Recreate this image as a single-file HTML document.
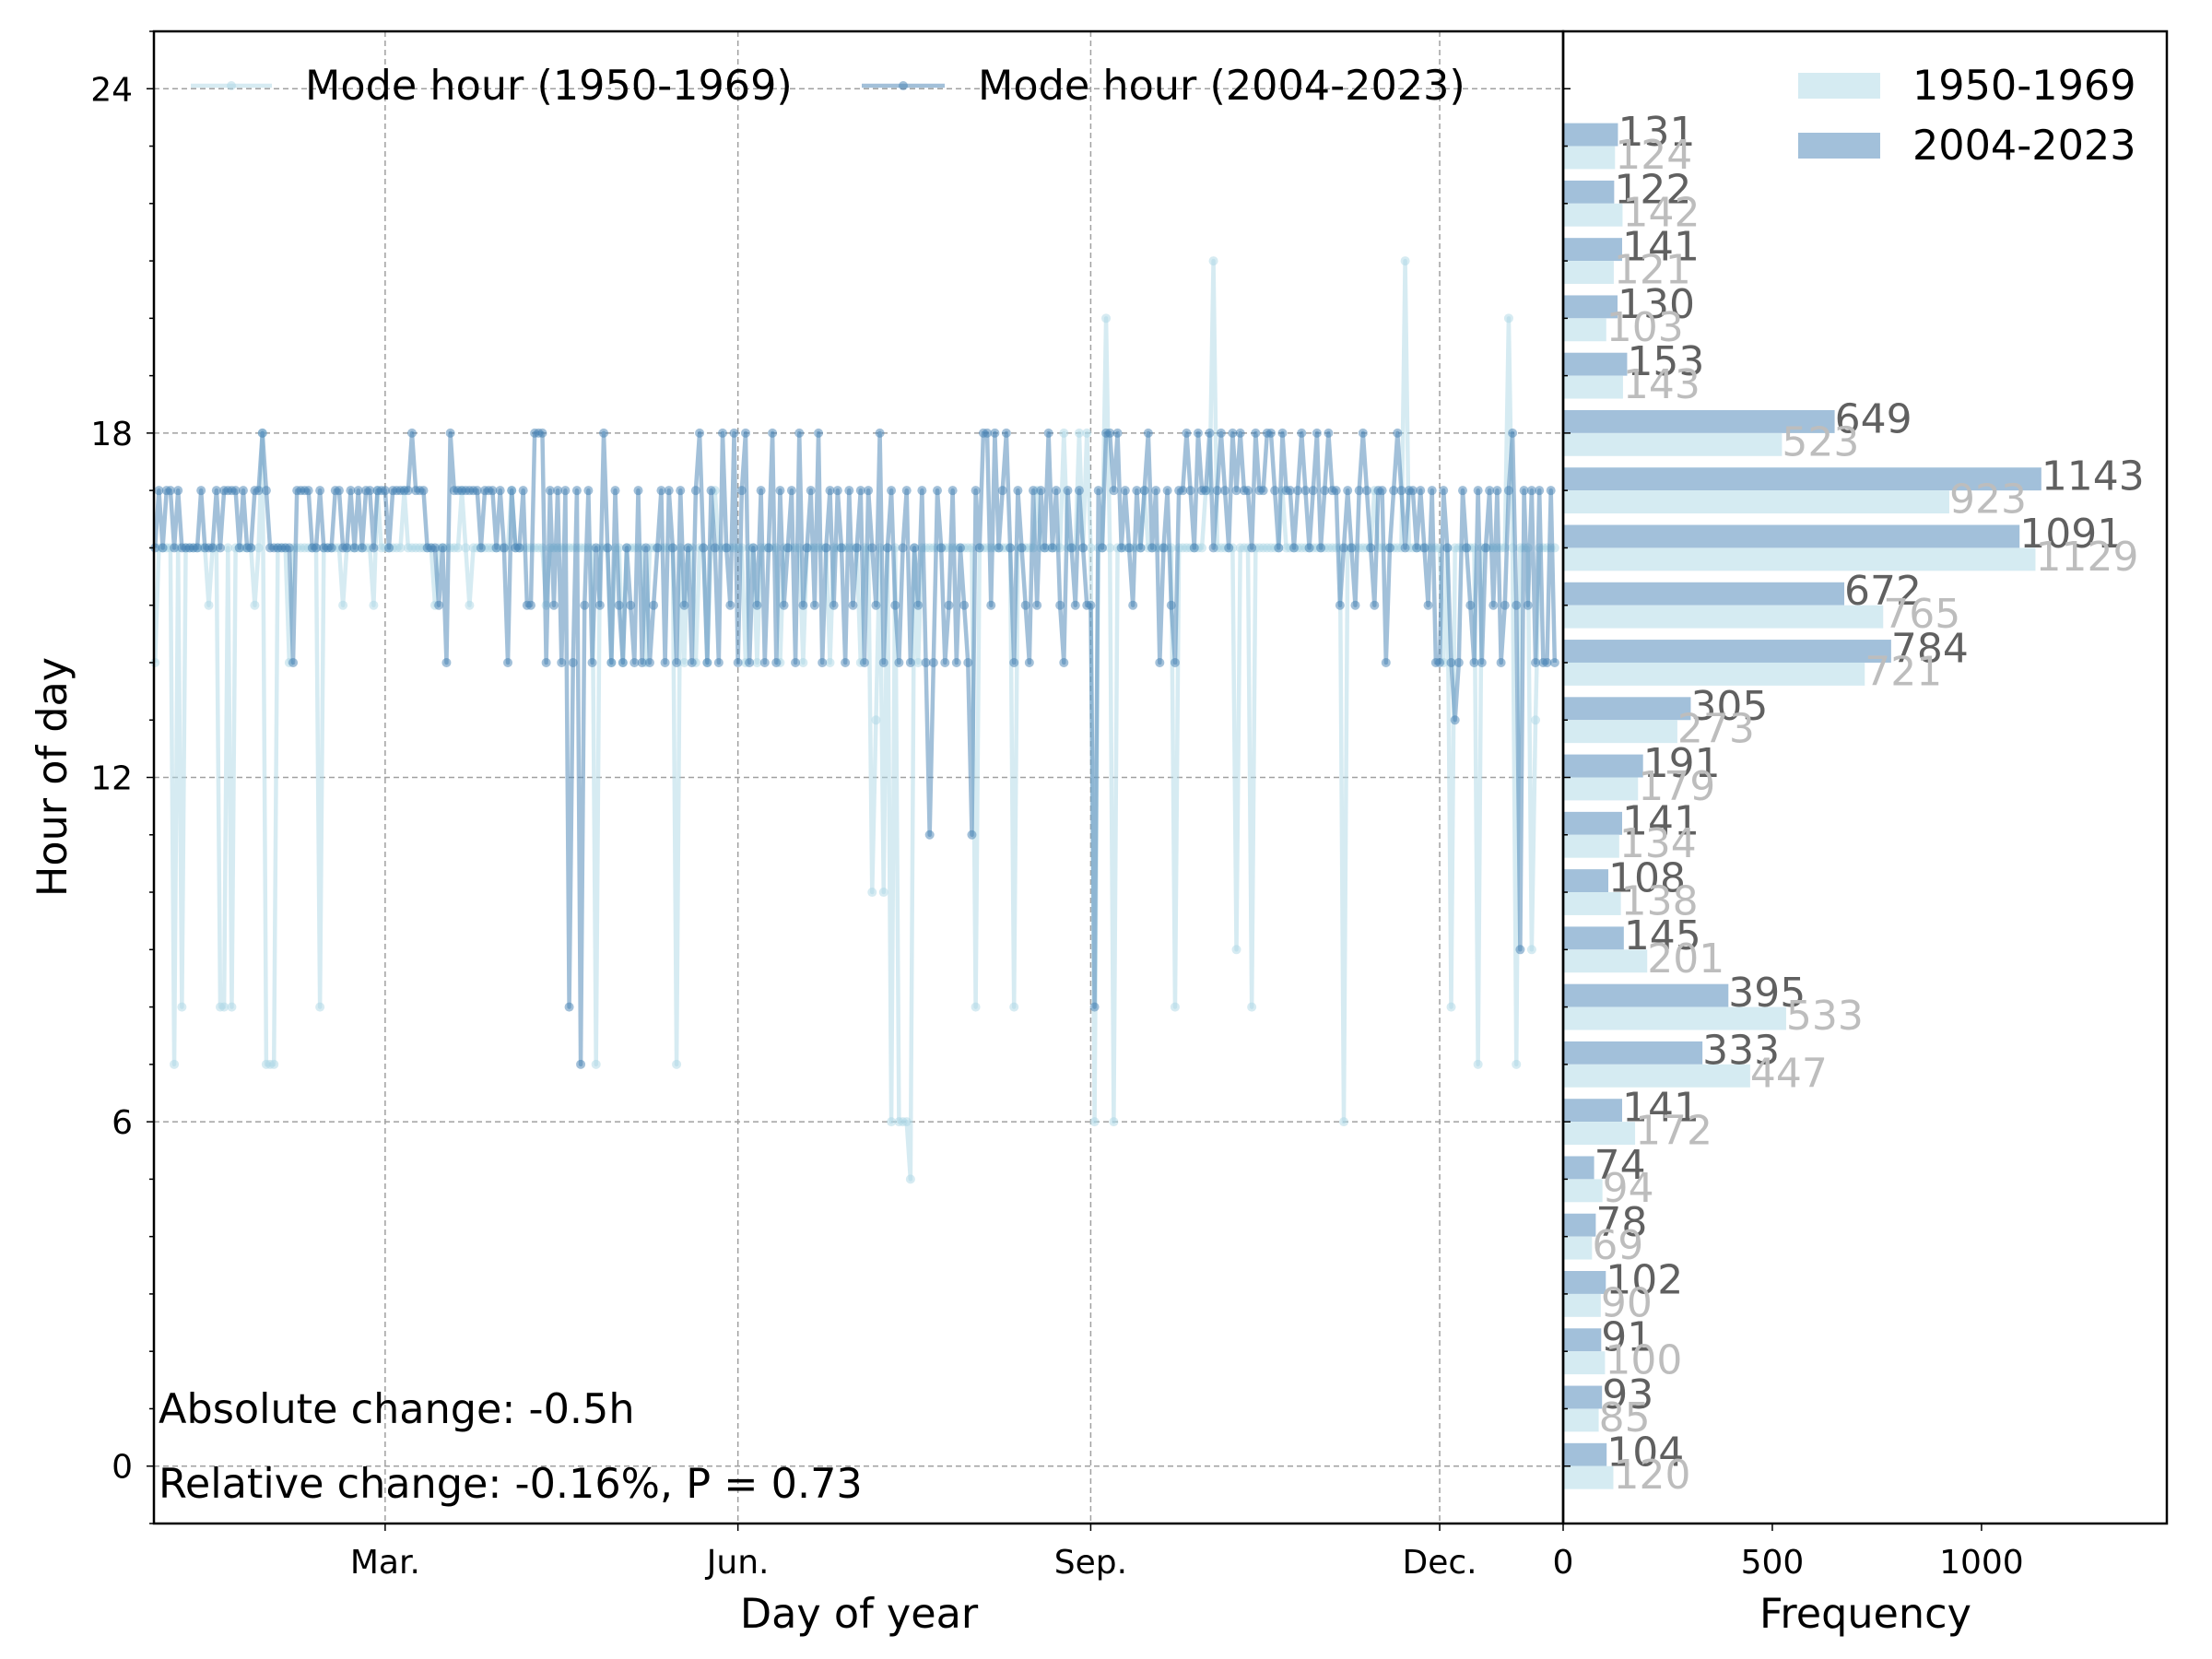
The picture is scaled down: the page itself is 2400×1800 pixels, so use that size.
<!DOCTYPE html>
<html><head><meta charset="utf-8"><style>
html,body{margin:0;padding:0;background:#fff;}
svg{display:block;font-family:"DejaVu Sans","Liberation Sans",sans-serif;}
</style></head><body>
<svg id="chart" width="2400" height="1800" viewBox="0 0 2400 1800" xmlns="http://www.w3.org/2000/svg">
<rect width="2400" height="1800" fill="#fff"/>
<g id="grid"></g>
<g id="series"></g>
<g id="hist"></g>
<g id="axes"></g>
<g id="labels"></g>
</svg>
<script>
const dark = [16,17,16,17,17,16,17,16,16,16,16,16,17,16,16,16,17,16,17,17,17,17,16,17,16,16,17,17,18,17,
16,16,16,16,16,16,14,17,17,17,17,16,16,17,16,16,16,17,17,16,16,17,16,17,16,17,17,16,17,17,
17,16,17,17,17,17,17,18,17,17,17,16,16,16,15,16,14,18,17,17,17,17,17,17,17,16,17,17,17,16,
17,16,14,17,16,16,17,15,15,18,18,18,14,17,15,17,14,17,8,14,17,7,15,17,14,16,15,18,16,14,
17,15,14,16,15,14,17,14,16,14,15,16,17,14,17,16,14,17,15,16,14,17,18,16,14,17,16,14,18,16,
15,18,14,17,18,14,16,15,17,14,16,18,14,17,15,16,17,14,18,15,16,17,15,18,14,16,17,15,17,16,
14,17,15,16,17,14,17,16,15,18,14,16,17,15,14,16,17,14,16,15,17,14,11,14,17,16,14,15,17,14,
16,15,14,11,17,16,18,18,15,18,16,17,18,16,14,17,16,15,14,17,15,17,16,18,16,17,15,14,17,16,
15,17,16,15,15,8,17,16,18,18,17,18,16,17,16,15,17,16,17,18,16,17,14,16,17,15,14,17,17,18,
17,16,18,17,17,18,16,17,18,17,16,18,17,18,17,17,16,18,17,17,18,18,17,16,18,17,17,16,17,18,
17,16,17,18,16,17,18,17,17,15,16,17,16,15,17,18,17,16,15,17,17,14,16,17,18,17,16,17,17,16,
17,16,15,17,14,14,17,16,14,13,14,17,16,15,14,17,14,16,17,15,17,14,15,17,18,15,9,17,15,17,14,17,14,14,17,14];
const light = [14,16,16,16,16,7,16,8,16,16,16,16,16,16,15,16,16,8,8,16,8,16,16,16,16,16,15,16,18,7,
7,7,16,16,16,14,16,16,16,16,16,16,16,8,16,16,16,16,16,15,16,16,16,16,16,16,16,15,17,16,
16,16,16,16,16,17,16,16,16,16,16,16,16,15,16,16,16,16,16,16,17,16,15,16,16,16,16,16,16,16,
16,16,16,17,16,16,16,16,16,16,16,16,15,16,16,16,16,16,16,16,16,16,16,16,16,7,16,16,16,14,
16,16,14,16,16,16,16,16,14,16,16,16,16,16,16,16,7,16,14,16,16,14,16,16,14,16,17,16,16,16,
16,16,16,16,14,16,16,14,16,16,16,16,16,14,16,16,16,16,16,14,16,16,16,16,16,16,14,16,16,16,
16,16,16,16,14,16,16,10,13,16,10,16,6,16,6,6,6,5,16,14,16,16,16,16,16,16,16,16,16,16,
16,16,16,16,8,16,16,16,16,16,16,16,16,16,8,16,16,16,16,16,17,16,16,16,16,16,16,18,16,16,
16,18,16,18,16,6,16,16,20,16,6,16,16,16,16,16,16,16,17,16,16,16,16,16,16,16,8,16,16,16,
16,16,16,16,17,17,21,16,16,16,16,16,9,16,16,16,8,16,16,16,16,16,16,16,17,16,16,16,16,16,
16,16,16,16,16,16,16,16,16,16,6,16,16,16,16,16,16,16,17,16,16,16,16,16,16,16,21,16,16,16,
16,16,16,16,16,16,14,16,8,16,16,16,16,16,16,7,16,16,16,16,16,16,16,20,16,7,16,16,16,9,13,16,16,16,16,16];
const hours = [0,1,2,3,4,5,6,7,8,9,10,11,12,13,14,15,16,17,18,19,20,21,22,23];
const histRecent = [104,93,91,102,78,74,141,333,395,145,108,141,191,305,784,672,1091,1143,649,153,130,141,122,131];
const histEarly = [120,85,100,90,69,94,172,447,533,201,138,134,179,273,721,765,1129,923,523,143,103,121,142,124];
const monthTicks = [60,152,244,335];
const monthLabels = ["Mar.","Jun.","Sep.","Dec."];
const hourTicks = [0,6,12,18,24];
const freqTicks = [0,500,1000];

const NS="http://www.w3.org/2000/svg";
const L=167,R=1696,T=34,B=1653,HR=2351;
const xMin=-0.3,xMax=367.2,yMin=-1,yMax=25,fMax=1443;
const X=d=>L+(d-xMin)/(xMax-xMin)*(R-L);
const Y=h=>B-(h-yMin)/(yMax-yMin)*(B-T);
const F=v=>R+v/fMax*(HR-R);
function mk(tag,attrs,parent){const e=document.createElementNS(NS,tag);for(const k in attrs)e.setAttribute(k,attrs[k]);parent.appendChild(e);return e;}
const grid=document.getElementById('grid'),series=document.getElementById('series'),hist=document.getElementById('hist'),axes=document.getElementById('axes'),labels=document.getElementById('labels');

monthTicks.forEach((d,i)=>{
  const g=mk('line',{x1:X(d),x2:X(d),y1:T,y2:B,stroke:'#a0a0a0','stroke-width':1.5,'stroke-dasharray':'6,4'},grid);
  
  
  const t=mk('line',{x1:X(d),x2:X(d),y1:B,y2:B+8,stroke:'#000','stroke-width':1.5},axes);
  
  
  const tx=mk('text',{x:X(d),y:1707,'font-size':36,'text-anchor':'middle'},labels);
  tx.textContent=monthLabels[i];
  
  
});
hourTicks.forEach(h=>{
  const g=mk('line',{x1:L,x2:R,y1:Y(h),y2:Y(h),stroke:'#a0a0a0','stroke-width':1.5,'stroke-dasharray':'6,4'},grid);
  
  
  const tx=mk('text',{x:144,y:Y(h)+13,'font-size':36,'text-anchor':'end'},labels);
  tx.textContent=h;
  
  
});
for(let h=-1;h<=25;h++){
  const major=h%6===0;
  const t=mk('line',{x1:L-(major?8:5),x2:L,y1:Y(h),y2:Y(h),stroke:'#000','stroke-width':1.5},axes);
  
  
  const t2=mk('line',{x1:R,x2:R+(major?8:5),y1:Y(h),y2:Y(h),stroke:'#000','stroke-width':1.5},axes);
  
  
}

function drawSeries(vals,color,name){
  const pts=vals.map((v,i)=>X(i)+','+Y(v)).join(' ');
  const pl=mk('polyline',{points:pts,fill:'none',stroke:color,'stroke-width':4.5,'stroke-opacity':0.5,'stroke-linejoin':'round'},series);
  
  
  vals.forEach((v,i)=>{
    const c=mk('circle',{cx:X(i),cy:Y(v),r:5,fill:color,'fill-opacity':0.5},series);
    
    
  });
}
drawSeries(light,'#add8e6','mode-hour-1950-1969');
drawSeries(dark,'#4682b4','mode-hour-2004-2023');

const bh=(B-T)/(yMax-yMin)*0.4;
hours.forEach((h,i)=>{
  const r1=mk('rect',{x:R,y:Y(h)-bh,width:F(histRecent[i])-R,height:bh,fill:'#a2c0da'},hist);
  
  
  const r2=mk('rect',{x:R,y:Y(h),width:F(histEarly[i])-R,height:bh,fill:'#d5ebf2'},hist);
  
  
  const t1=mk('text',{x:F(histRecent[i]),y:Y(h)-bh/2+12,'font-size':44,fill:'#606060'},labels);
  t1.textContent=histRecent[i];
  
  
  const t2=mk('text',{x:F(histEarly[i]),y:Y(h)+bh/2+12,'font-size':44,fill:'#bdbdbd'},labels);
  t2.textContent=histEarly[i];
  
  
});
freqTicks.forEach(v=>{
  const t=mk('line',{x1:F(v),x2:F(v),y1:B,y2:B+8,stroke:'#000','stroke-width':1.5},axes);
  
  
  const tx=mk('text',{x:F(v),y:1707,'font-size':36,'text-anchor':'middle'},labels);
  tx.textContent=v;
  
  
});
const f1=mk('rect',{x:L,y:T,width:R-L,height:B-T,fill:'none',stroke:'#000','stroke-width':2.5},axes);


const f2=mk('rect',{x:R,y:T,width:HR-R,height:B-T,fill:'none',stroke:'#000','stroke-width':2.5},axes);


</script>
<svg style="position:absolute;left:0;top:0" width="2400" height="1800">
<g font-family="DejaVu Sans, Liberation Sans, sans-serif" font-size="44.5">
<g>
<line x1="207" y1="93" x2="295" y2="93" stroke="#add8e6" stroke-opacity="0.5" stroke-width="4.5"/>
<circle cx="251" cy="93" r="5" fill="#add8e6" fill-opacity="0.5"/>
<text x="331" y="108">Mode hour (1950-1969)</text></g>
<g>
<line x1="935" y1="93" x2="1025" y2="93" stroke="#4682b4" stroke-opacity="0.5" stroke-width="4.5"/>
<circle cx="980" cy="93" r="5" fill="#4682b4" fill-opacity="0.5"/>
<text x="1061" y="108">Mode hour (2004-2023)</text></g>
<g>
<rect x="1951" y="79" width="89" height="28" fill="#d5ebf2"/>
<text x="2075" y="108">1950-1969</text></g>
<g>
<rect x="1951" y="144" width="89" height="28" fill="#a2c0da"/>
<text x="2075" y="173">2004-2023</text></g>
<text x="172" y="1544">Absolute change: -0.5h</text>
<text x="172" y="1625">Relative change: -0.16%, P = 0.73</text>
<text x="932" y="1766" text-anchor="middle">Day of year</text>
<text x="2024" y="1766" text-anchor="middle">Frequency</text>
<text transform="translate(72,843) rotate(-90)" text-anchor="middle">Hour of day</text>
</g></svg>
</body></html>
